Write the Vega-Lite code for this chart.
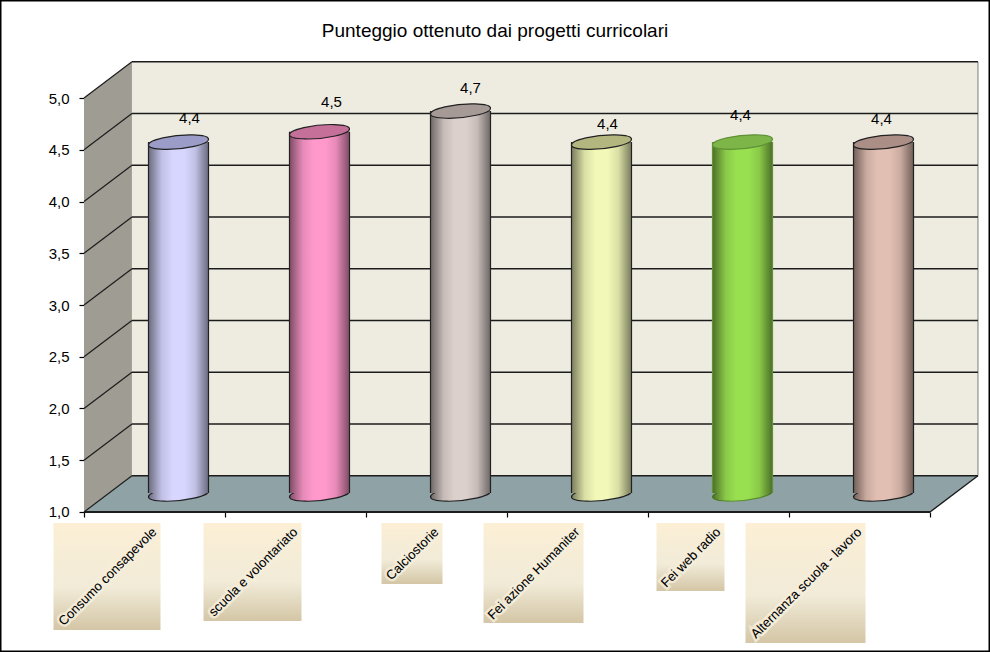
{
  "$schema": "https://vega.github.io/schema/vega-lite/v6.json",
  "width": 990,
  "height": 652,
  "autosize": {"type": "fit", "contains": "padding"},
  "padding": 0,
  "background": "#ffffff",
  "datasets": {
    "progetti": [
      {"n": 1, "progetto": "Consumo consapevole", "punteggio": 4.4},
      {"n": 2, "progetto": "scuola e volontariato", "punteggio": 4.5},
      {"n": 3, "progetto": "Calciostorie", "punteggio": 4.7},
      {"n": 4, "progetto": "Fei azione Humaniter", "punteggio": 4.4},
      {"n": 5, "progetto": "Fei web radio", "punteggio": 4.4},
      {"n": 6, "progetto": "Alternanza scuola - lavoro", "punteggio": 4.4}
    ],
    "griglia": [
      {"valore": 1.0, "fondo": 1.35},
      {"valore": 1.5, "fondo": 1.85},
      {"valore": 2.0, "fondo": 2.35},
      {"valore": 2.5, "fondo": 2.85},
      {"valore": 3.0, "fondo": 3.35},
      {"valore": 3.5, "fondo": 3.85},
      {"valore": 4.0, "fondo": 4.35},
      {"valore": 4.5, "fondo": 4.85},
      {"valore": 5.0, "fondo": 5.35}
    ],
    "parete": [
      {"x": 0.5, "basso": 1.0, "alto": 5.0},
      {"x": 0.84, "basso": 1.35, "alto": 5.35}
    ],
    "pavimento": [
      {"y": 1.0, "da": 0.5, "a": 6.5},
      {"y": 1.35, "da": 0.84, "a": 6.84}
    ]
  },
  "encoding": {
    "x": {
      "type": "quantitative",
      "scale": {"domain": [-0.0957, 6.9255], "nice": false, "zero": false, "padding": 0},
      "title": null,
      "axis": {"orient": "bottom", "offset": -140, "values": [0.5, 1.5, 2.5, 3.5, 4.5, 5.5, 6.5], "domain": false, "grid": false, "labels": false, "ticks": true, "tickSize": 5, "tickColor": "#000000", "tickWidth": 1.2, "title": null}
    },
    "y": {
      "type": "quantitative",
      "scale": {"domain": [-0.3527, 5.9469], "nice": false, "zero": false, "padding": 0},
      "title": null,
      "axis": {"orient": "left", "offset": -84, "values": [1, 1.5, 2, 2.5, 3, 3.5, 4, 4.5, 5], "format": ".1f", "domain": false, "grid": false, "ticks": true, "tickSize": 5, "tickColor": "#000000", "tickWidth": 1.2, "labelFont": "Liberation Sans", "labelFontSize": 15, "labelColor": "#000000", "labelPadding": 10, "title": null}
    }
  },
  "layer": [
    {
      "data": {"values": [{"x1": 0.84, "x2": 6.84, "y1": 1.35, "y2": 5.35}]},
      "mark": {"type": "rect", "fill": "#EEECE1", "opacity": 1},
      "encoding": {"x": {"field": "x1"}, "x2": {"field": "x2"}, "y": {"field": "y1"}, "y2": {"field": "y2"}}
    },
    {
      "data": {"name": "parete"},
      "mark": {"type": "area", "fill": "#9F9C93", "opacity": 1},
      "encoding": {"x": {"field": "x"}, "y": {"field": "alto"}, "y2": {"field": "basso"}}
    },
    {
      "data": {"name": "pavimento"},
      "mark": {"type": "area", "orient": "horizontal", "fill": "#8FA2A6", "opacity": 1},
      "encoding": {"y": {"field": "y"}, "x": {"field": "da"}, "x2": {"field": "a"}}
    },
    {
      "data": {"values": [{"x": 6.84, "y1": 1.35, "y2": 5.35}]},
      "mark": {"type": "rule", "stroke": "#A5A5A0", "strokeWidth": 1.5},
      "encoding": {"x": {"field": "x"}, "y": {"field": "y1"}, "y2": {"field": "y2"}}
    },
    {
      "data": {"name": "griglia"},
      "mark": {"type": "rule", "stroke": "#1c1c1c", "strokeWidth": 1.4},
      "encoding": {"x": {"datum": 0.84}, "x2": {"datum": 6.84}, "y": {"field": "fondo"}}
    },
    {
      "data": {"name": "griglia"},
      "mark": {"type": "rule", "stroke": "#1c1c1c", "strokeWidth": 1.2},
      "encoding": {"x": {"datum": 0.5}, "x2": {"datum": 0.84}, "y": {"field": "valore"}, "y2": {"field": "fondo"}}
    },
    {
      "data": {"values": [{"x": 6.5, "x2": 6.84, "y": 1.0, "y2": 1.35}]},
      "mark": {"type": "rule", "stroke": "#1c1c1c", "strokeWidth": 1.4},
      "encoding": {"x": {"field": "x"}, "x2": {"field": "x2"}, "y": {"field": "y"}, "y2": {"field": "y2"}}
    },
    {
      "data": {"values": [{"da": 0.5, "a": 6.5, "y": 1.0}]},
      "mark": {"type": "rule", "stroke": "#1c1c1c", "strokeWidth": 2},
      "encoding": {"x": {"field": "da"}, "x2": {"field": "a"}, "y": {"field": "y"}}
    },
    {
      "data": {"name": "progetti"},
      "mark": {"type": "point", "shape": "M-1,0.1 A1.005,0.22 -5.7 1 1 1,-0.1 A1.005,0.22 -5.7 1 1 -1,0.1 Z", "filled": true, "size": 3600, "xOffset": 24, "yOffset": -18, "opacity": 1, "strokeWidth": 1.2},
      "encoding": {
        "x": {"field": "n"},
        "y": {"datum": 1},
        "color": {"field": "progetto", "type": "nominal", "legend": null, "scale": {"domain": ["Consumo consapevole", "scuola e volontariato", "Calciostorie", "Fei azione Humaniter", "Fei web radio", "Alternanza scuola - lavoro"], "range": ["#D6D6FF", "#FF99CC", "#DCD0CC", "#F2F8B8", "#99E050", "#E2BFB3"]}},
        "stroke": {"field": "progetto", "type": "nominal", "legend": null, "scale": {"domain": ["Consumo consapevole", "scuola e volontariato", "Calciostorie", "Fei azione Humaniter", "Fei web radio", "Alternanza scuola - lavoro"], "range": ["#222222", "#222222", "#222222", "#222222", "#5F9136", "#222222"]}}
      }
    },
    {
      "data": {"name": "progetti"},
      "mark": {
        "type": "point", "shape": "M-1,0.1 A1.005,0.22 -5.7 1 1 1,-0.1 A1.005,0.22 -5.7 1 1 -1,0.1 Z", "filled": true, "size": 3600, "xOffset": 24, "yOffset": -18, "opacity": 1, "stroke": null,
        "fill": {"gradient": "linear", "x1": 0, "x2": 1, "y1": 0, "y2": 0, "stops": [
          {"offset": 0, "color": "rgba(0,0,0,0.5)"},
          {"offset": 0.22, "color": "rgba(0,0,0,0.1)"},
          {"offset": 0.4, "color": "rgba(0,0,0,0)"},
          {"offset": 0.6, "color": "rgba(0,0,0,0)"},
          {"offset": 0.78, "color": "rgba(0,0,0,0.1)"},
          {"offset": 1, "color": "rgba(0,0,0,0.5)"}
        ]}
      },
      "encoding": {"x": {"field": "n"}, "y": {"datum": 1}}
    },
    {
      "data": {"name": "progetti"},
      "mark": {"type": "bar", "width": 60, "orient": "vertical", "xOffset": 24, "yOffset": -18, "y2Offset": -19, "opacity": 1},
      "encoding": {
        "x": {"field": "n"},
        "y": {"field": "punteggio"},
        "y2": {"datum": 1},
        "color": {"field": "progetto", "type": "nominal", "legend": null, "scale": {"domain": ["Consumo consapevole", "scuola e volontariato", "Calciostorie", "Fei azione Humaniter", "Fei web radio", "Alternanza scuola - lavoro"], "range": ["#D6D6FF", "#FF99CC", "#DCD0CC", "#F2F8B8", "#99E050", "#E2BFB3"]}}
      }
    },
    {
      "data": {"name": "progetti"},
      "mark": {
        "type": "bar", "width": 60, "orient": "vertical", "xOffset": 24, "yOffset": -18, "y2Offset": -19, "opacity": 1,
        "color": {"gradient": "linear", "x1": 0, "x2": 1, "y1": 0, "y2": 0, "stops": [
          {"offset": 0, "color": "rgba(0,0,0,0.5)"},
          {"offset": 0.22, "color": "rgba(0,0,0,0.1)"},
          {"offset": 0.4, "color": "rgba(0,0,0,0)"},
          {"offset": 0.6, "color": "rgba(0,0,0,0)"},
          {"offset": 0.78, "color": "rgba(0,0,0,0.1)"},
          {"offset": 1, "color": "rgba(0,0,0,0.5)"}
        ]}
      },
      "encoding": {"x": {"field": "n"}, "y": {"field": "punteggio"}, "y2": {"datum": 1}}
    },
    {
      "data": {"name": "progetti"},
      "mark": {"type": "rule", "xOffset": -6, "yOffset": -18, "y2Offset": -19, "strokeWidth": 1.2},
      "encoding": {
        "x": {"field": "n"},
        "y": {"field": "punteggio"},
        "y2": {"datum": 1},
        "stroke": {"field": "progetto", "type": "nominal", "legend": null, "scale": {"domain": ["Consumo consapevole", "scuola e volontariato", "Calciostorie", "Fei azione Humaniter", "Fei web radio", "Alternanza scuola - lavoro"], "range": ["#222222", "#222222", "#222222", "#222222", "#5F9136", "#222222"]}}
      }
    },
    {
      "data": {"name": "progetti"},
      "mark": {"type": "rule", "xOffset": 54, "yOffset": -18, "y2Offset": -19, "strokeWidth": 1.2},
      "encoding": {
        "x": {"field": "n"},
        "y": {"field": "punteggio"},
        "y2": {"datum": 1},
        "stroke": {"field": "progetto", "type": "nominal", "legend": null, "scale": {"domain": ["Consumo consapevole", "scuola e volontariato", "Calciostorie", "Fei azione Humaniter", "Fei web radio", "Alternanza scuola - lavoro"], "range": ["#222222", "#222222", "#222222", "#222222", "#5F9136", "#222222"]}}
      }
    },
    {
      "data": {"name": "progetti"},
      "mark": {"type": "point", "shape": "M-1,0.1 A1.005,0.22 -5.7 1 1 1,-0.1 A1.005,0.22 -5.7 1 1 -1,0.1 Z", "filled": true, "size": 3600, "xOffset": 24, "yOffset": -18, "opacity": 1, "strokeWidth": 1.2},
      "encoding": {
        "x": {"field": "n"},
        "y": {"field": "punteggio"},
        "fill": {"field": "progetto", "type": "nominal", "legend": null, "scale": {"domain": ["Consumo consapevole", "scuola e volontariato", "Calciostorie", "Fei azione Humaniter", "Fei web radio", "Alternanza scuola - lavoro"], "range": ["#9C9CC8", "#C47098", "#A59A96", "#B3B67F", "#7EB548", "#AB8F86"]}},
        "stroke": {"field": "progetto", "type": "nominal", "legend": null, "scale": {"domain": ["Consumo consapevole", "scuola e volontariato", "Calciostorie", "Fei azione Humaniter", "Fei web radio", "Alternanza scuola - lavoro"], "range": ["#222222", "#222222", "#222222", "#222222", "#5F9136", "#222222"]}}
      }
    },
    {
      "data": {"name": "progetti"},
      "transform": [{"filter": "datum.n == 1"}],
      "mark": {"type": "text", "font": "Liberation Sans", "fontSize": 15, "baseline": "middle", "color": "#000000", "xOffset": 35, "yOffset": -42},
      "encoding": {"x": {"field": "n"}, "y": {"field": "punteggio"}, "text": {"field": "punteggio", "type": "quantitative", "format": ".1f"}}
    },
    {
      "data": {"name": "progetti"},
      "transform": [{"filter": "datum.n == 2"}],
      "mark": {"type": "text", "font": "Liberation Sans", "fontSize": 15, "baseline": "middle", "color": "#000000", "xOffset": 36, "yOffset": -48},
      "encoding": {"x": {"field": "n"}, "y": {"field": "punteggio"}, "text": {"field": "punteggio", "type": "quantitative", "format": ".1f"}}
    },
    {
      "data": {"name": "progetti"},
      "transform": [{"filter": "datum.n == 3"}],
      "mark": {"type": "text", "font": "Liberation Sans", "fontSize": 15, "baseline": "middle", "color": "#000000", "xOffset": 34, "yOffset": -41},
      "encoding": {"x": {"field": "n"}, "y": {"field": "punteggio"}, "text": {"field": "punteggio", "type": "quantitative", "format": ".1f"}}
    },
    {
      "data": {"name": "progetti"},
      "transform": [{"filter": "datum.n == 4"}],
      "mark": {"type": "text", "font": "Liberation Sans", "fontSize": 15, "baseline": "middle", "color": "#000000", "xOffset": 30, "yOffset": -36},
      "encoding": {"x": {"field": "n"}, "y": {"field": "punteggio"}, "text": {"field": "punteggio", "type": "quantitative", "format": ".1f"}}
    },
    {
      "data": {"name": "progetti"},
      "transform": [{"filter": "datum.n == 5"}],
      "mark": {"type": "text", "font": "Liberation Sans", "fontSize": 15, "baseline": "middle", "color": "#000000", "xOffset": 22, "yOffset": -45},
      "encoding": {"x": {"field": "n"}, "y": {"field": "punteggio"}, "text": {"field": "punteggio", "type": "quantitative", "format": ".1f"}}
    },
    {
      "data": {"name": "progetti"},
      "transform": [{"filter": "datum.n == 6"}],
      "mark": {"type": "text", "font": "Liberation Sans", "fontSize": 15, "baseline": "middle", "color": "#000000", "xOffset": 22, "yOffset": -41},
      "encoding": {"x": {"field": "n"}, "y": {"field": "punteggio"}, "text": {"field": "punteggio", "type": "quantitative", "format": ".1f"}}
    },
    {
      "data": {"name": "progetti"},
      "mark": {
        "type": "point", "shape": "M-2,0 L0,0 L0,2 L-2,2 Z", "filled": true, "xOffset": 6, "opacity": 1, "stroke": null,
        "fill": {"gradient": "linear", "x1": 0, "x2": 0, "y1": 0, "y2": 1, "stops": [
          {"offset": 0, "color": "#FCEFD5"},
          {"offset": 0.6, "color": "#F1EBD8"},
          {"offset": 1, "color": "#D4C6A6"}
        ]}
      },
      "encoding": {
        "x": {"field": "n"},
        "y": {"datum": 0.894},
        "size": {"field": "n", "type": "quantitative", "legend": null, "scale": {"type": "threshold", "domain": [1.5, 2.5, 3.5, 4.5, 5.5], "range": [11449, 9604, 3721, 10000, 4624, 14400]}}
      }
    },
    {
      "data": {"name": "progetti"},
      "mark": {"type": "text", "font": "Liberation Sans", "fontSize": 13, "angle": 315, "align": "right", "baseline": "middle", "stroke": "#F6EFDC", "strokeWidth": 5, "strokeOpacity": 0.8, "xOffset": 0, "yOffset": 7},
      "encoding": {"x": {"field": "n"}, "y": {"datum": 0.894}, "text": {"field": "progetto", "type": "nominal"}}
    },
    {
      "data": {"name": "progetti"},
      "mark": {"type": "text", "font": "Liberation Sans", "fontSize": 13, "angle": 315, "align": "right", "baseline": "middle", "color": "#000000", "xOffset": 0, "yOffset": 7},
      "encoding": {"x": {"field": "n"}, "y": {"datum": 0.894}, "text": {"field": "progetto", "type": "nominal"}}
    },
    {
      "data": {"values": [{"titolo": "Punteggio ottenuto dai progetti curricolari", "x": 3.415, "y": 5.648}]},
      "mark": {"type": "text", "font": "Liberation Sans", "fontSize": 19, "align": "center", "baseline": "middle", "color": "#000000"},
      "encoding": {"x": {"field": "x"}, "y": {"field": "y"}, "text": {"field": "titolo", "type": "nominal"}}
    }
  ],
  "config": {
    "view": {"stroke": "#000000", "strokeWidth": 3},
    "locale": {"number": {"decimal": ",", "thousands": ".", "grouping": [3], "currency": ["", " €"]}}
  }
}
